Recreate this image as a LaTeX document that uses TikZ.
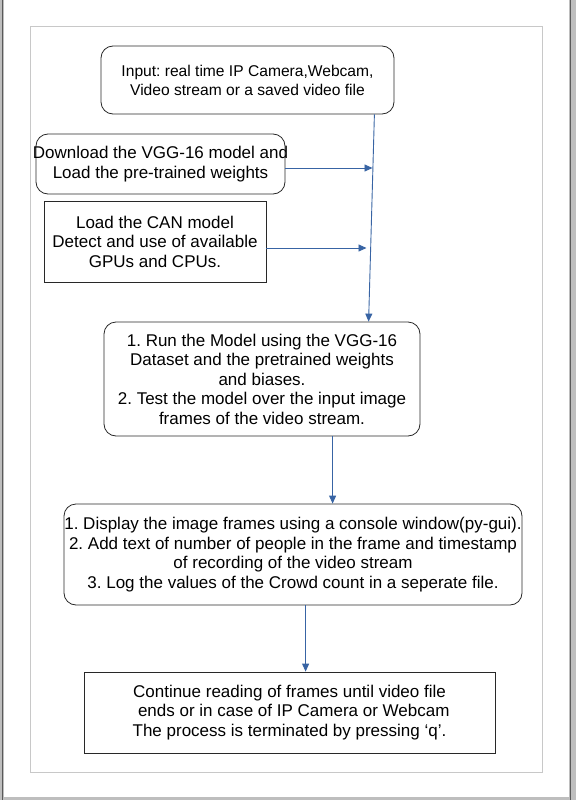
\documentclass[tikz,border=0pt]{standalone}
\usepackage{fontspec}
\setmainfont{Liberation Sans}
\usetikzlibrary{arrows.meta}
\definecolor{arrowblue}{RGB}{56,100,164}
\definecolor{boxline}{RGB}{40,40,40}
\definecolor{framegray}{RGB}{200,200,200}
\definecolor{pagegray}{RGB}{190,190,190}
\frenchspacing
\begin{document}
\begin{tikzpicture}[x=1pt,y=-1pt,
  every node/.style={font=\fontsize{17}{19.5}\selectfont, align=center, inner sep=0pt},
  roundbox/.style={draw=boxline, line width=0.8pt, rounded corners=12pt},
  sqbox/.style={draw=boxline, line width=0.8pt},
  flow/.style={draw=arrowblue, line width=0.9pt, -{Triangle[length=8pt,width=7pt]}}]
\useasboundingbox (0,0) rectangle (576,800);
% page background
\fill[pagegray] (0,0) rectangle (576,800);
\fill[white] (4,0) rectangle (569,797);
\draw[gray!70!black, line width=0.8pt] (2.5,0) -- (2.5,800);
\draw[gray!70!black, line width=0.8pt] (570.5,0) -- (570.5,800);
\draw[framegray, line width=0.8pt] (30,26) rectangle (542,772);
% boxes
\node[roundbox, minimum width=293pt, minimum height=68pt, font=\fontsize{15.6}{19}\selectfont] (in) at (247.5,80)
  {Input: real time IP Camera,Webcam,\\Video stream or a saved video file};
\node[roundbox, minimum width=249pt, minimum height=60pt, inner xsep=-4pt] (dl) at (160.5,164)
  {Download the VGG-16 model and\\Load the pre-trained weights};
\node[sqbox, minimum width=222pt, minimum height=81pt] (can) at (155,241.5)
  {Load the CAN model\\Detect and use of available\\GPUs and CPUs.};
\node[roundbox, minimum width=316pt, minimum height=114pt] (run) at (262,379)
  {1. Run the Model using the VGG-16\\Dataset and the pretrained weights\\and biases.\\2. Test the model over the input image\\frames of the video stream.};
\node[roundbox, minimum width=458pt, minimum height=101pt, inner xsep=-4pt] (disp) at (293,554.5)
  {1. Display the image frames using a console window(py-gui).\\2. Add text of number of people in the frame and timestamp\\of recording of the video stream\\3. Log the values of the Crowd count in a seperate file.};
\node[sqbox, minimum width=411pt, minimum height=81pt] (cont) at (289.5,712.5)
  {Continue reading of frames until video file\\\hphantom{x}ends or in case of IP Camera or Webcam\\The process is terminated by pressing ‘q’.};
% connectors
\coordinate (a1) at ([xshift=-20pt]in.south east);
\coordinate (a2) at ([xshift=265pt]run.north west);
\draw[flow] (a1) -- (a2);
\coordinate (d1) at (372.5,168);
\coordinate (c1) at (366.5,248);
\draw[flow] (dl.east |- d1) -- (d1);
\draw[flow] (can.east |- c1) -- (c1);
\coordinate (r1) at ([xshift=229pt]run.south west);
\coordinate (r2) at (r1 |- disp.north);
\draw[flow] (r1) -- (r2);
\coordinate (s1) at ([xshift=242pt]disp.south west);
\coordinate (s2) at (s1 |- cont.north);
\draw[flow] (s1) -- (s2);
\end{tikzpicture}
\end{document}
